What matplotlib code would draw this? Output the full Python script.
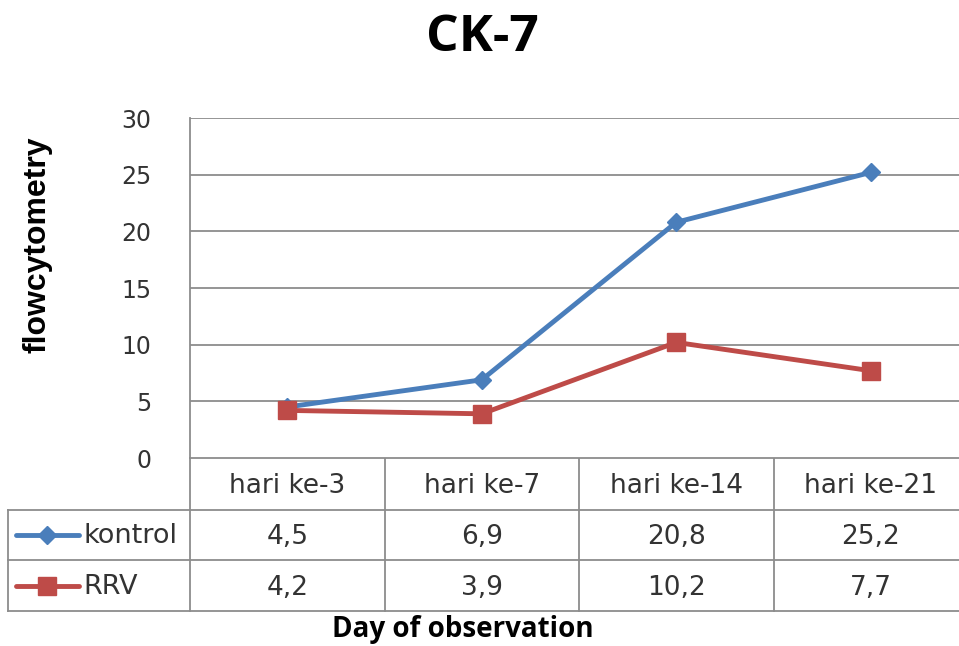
import matplotlib.pyplot as plt
from matplotlib.lines import Line2D

# data
days = ['hari ke-3', 'hari ke-7', 'hari ke-14', 'hari ke-21']
kontrol = [4.5, 6.9, 20.8, 25.2]
rrv = [4.2, 3.9, 10.2, 7.7]
series_names = ['kontrol', 'RRV']
y_ticks = [0, 5, 10, 15, 20, 25, 30]

W, H = 959, 646
blue = '#4A7EBB'
red = '#BE4B48'
grid_c = '#8C8C8C'

fig = plt.figure(figsize=(W / 100, H / 100), dpi=100)

# plot area in pixels
left, right, top, bottom = 190, 959, 118, 458
cw = 194.5  # width of one category column
xmin = -0.5
xmax = xmin + (right - left) / cw

ax = fig.add_axes([left / W, (H - bottom) / H, (right - left) / W, (bottom - top) / H])
x = list(range(len(days)))
ax.plot(x, kontrol, color=blue, lw=3.5, marker='D', ms=9.5, solid_joinstyle='round', zorder=3)
ax.plot(x, rrv, color=red, lw=3.5, marker='s', ms=13, solid_joinstyle='round', zorder=3)
ax.set_xlim(xmin, xmax)
ax.set_ylim(0, 30)
ax.set_yticks(y_ticks)
ax.set_yticklabels([str(t) for t in y_ticks], fontsize=17, family='DejaVu Sans', color='#333333')
ax.tick_params(axis='y', length=0, pad=28)
ax.set_xticks([])
for t in y_ticks:
    ax.axhline(t, color=grid_c, lw=1.3, zorder=1)
for s in ['top', 'right', 'bottom']:
    ax.spines[s].set_visible(False)
ax.spines['left'].set_color(grid_c)
ax.spines['left'].set_linewidth(1.3)

# overlay in pixel coordinates for the data table
ov = fig.add_axes([0, 0, 1, 1], zorder=-1)
ov.set_xlim(0, W)
ov.set_ylim(H, 0)
ov.axis('off')

rows = [458, 510, 560, 611]
col_x = [left + i * cw for i in range(len(days) + 1)]
lc = dict(color=grid_c, lw=1.3)
# horizontal table lines
ov.plot([left, W], [rows[0], rows[0]], **lc)
for r in rows[1:]:
    ov.plot([8, W], [r, r], **lc)
# vertical lines
ov.plot([8, 8], [rows[1], rows[3]], **lc)
for cx in col_x:
    ov.plot([cx, cx], [rows[0], rows[3]], **lc)

tfont = dict(fontsize=19, family='DejaVu Sans', color='#333333', ha='center', va='center')
for i, d in enumerate(days):
    cx = left + (i + 0.5) * cw
    ov.text(cx, (rows[0] + rows[1]) / 2 + 2, d, **tfont)
    ov.text(cx, (rows[1] + rows[2]) / 2 + 2, f'{kontrol[i]:.1f}'.replace('.', ','), **tfont)
    ov.text(cx, (rows[2] + rows[3]) / 2 + 2, f'{rrv[i]:.1f}'.replace('.', ','), **tfont)

# legend keys inside the table
for j, (name, col, mk, ms) in enumerate(zip(series_names, [blue, red], ['D', 's'], [9.5, 13])):
    yc = (rows[j + 1] + rows[j + 2]) / 2
    ov.add_line(Line2D([16, 79], [yc, yc], color=col, lw=3.5, solid_capstyle='round'))
    ov.plot([47], [yc], marker=mk, ms=ms, color=col)
    ov.text(83, yc + 1, name, fontsize=19.5, family='DejaVu Sans', color='#333333', ha='left', va='center')

# titles
fig.text(482 / W, 1 - 38 / H, 'CK-7', fontsize=37, fontweight='bold', family='Open Sans',
         ha='center', va='center')
fig.text(463 / W, 1 - 630 / H, 'Day of observation', fontsize=20, fontweight='bold',
         family='Open Sans', ha='center', va='center')
fig.text(38 / W, 1 - 245 / H, 'flowcytometry', fontsize=23, fontweight='bold',
         family='Liberation Sans', rotation=90, ha='center', va='center')

fig.savefig('out.png', dpi=100, facecolor='white')
